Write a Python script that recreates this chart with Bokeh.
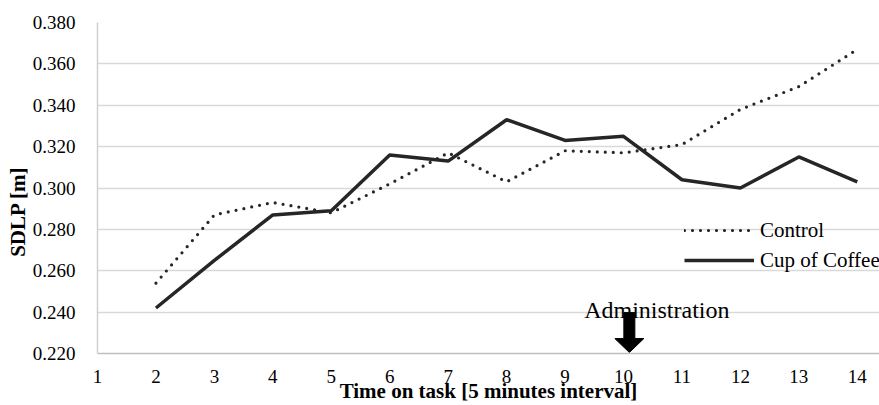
import numpy as np
from bokeh.plotting import figure
from bokeh.models import (FixedTicker, NumeralTickFormatter, Label, Legend, LegendItem,
                          Range1d, ColumnDataSource)
from bokeh.embed import file_html
from bokeh.resources import INLINE

# ---- data ----
time_points = [2, 3, 4, 5, 6, 7, 8, 9, 10, 11, 12, 13, 14]
control = [0.254, 0.287, 0.293, 0.288, 0.302, 0.317, 0.303, 0.318, 0.317, 0.321, 0.338, 0.349, 0.367]
coffee = [0.242, 0.265, 0.287, 0.289, 0.316, 0.313, 0.333, 0.323, 0.325, 0.304, 0.300, 0.315, 0.303]
x_ticks = list(range(1, 15))
y_ticks = [0.22, 0.24, 0.26, 0.28, 0.30, 0.32, 0.34, 0.36, 0.38]
series_names = ["Control", "Cup of Coffee"]
admin_time = 10.1
admin_text = "Administration"
x_title = "Time on task [5 minutes interval]"
y_title = "SDLP [m]"

FONT = "'Liberation Serif', 'Times New Roman', serif"
INK = "#262626"

X0, X1 = 1, 14.38
p = figure(width=879, height=405, output_backend="svg", toolbar_location=None,
           x_range=Range1d(X0, X1), y_range=Range1d(0.22, 0.38),
           min_border_left=97, min_border_top=22, min_border_bottom=51, min_border_right=0)
p.outline_line_color = None
p.background_fill_color = "white"

# axes
p.xaxis.ticker = FixedTicker(ticks=x_ticks)
p.yaxis.ticker = FixedTicker(ticks=y_ticks)
p.yaxis.formatter = NumeralTickFormatter(format="0.000")
for ax in (p.xaxis, p.yaxis):
    ax.major_tick_line_color = None
    ax.minor_tick_line_color = None
    ax.major_tick_out = 0
    ax.major_tick_in = 0
    ax.minor_tick_out = 0
    ax.major_label_text_font = FONT
    ax.major_label_text_font_size = "19px"
    ax.major_label_text_color = "black"
    ax.axis_label_text_font = FONT
    ax.axis_label_text_font_style = "bold"
    ax.axis_label_text_font_size = "21px"
    ax.axis_label_text_color = "black"
p.xaxis.axis_line_color = "#bfbfbf"
p.xaxis.axis_line_width = 1.5
p.yaxis.axis_line_color = "#d0d0d0"
p.yaxis.axis_line_width = 1.5
p.yaxis.major_label_standoff = 22
p.xaxis.major_label_standoff = 16

p.xaxis.axis_label = x_title
p.xaxis.axis_label_standoff = -7
# trailing no-break spaces shift the rotated title downwards like the reference
p.yaxis.axis_label = y_title + "\u00a0" * 9
p.yaxis.axis_label_standoff = 0

p.xgrid.grid_line_color = None
p.ygrid.grid_line_color = "#d9d9d9"
p.ygrid.grid_line_width = 1.5

src = ColumnDataSource(dict(t=time_points, control=control, coffee=coffee))
r_ctrl = p.line("t", "control", source=src, line_color=INK, line_width=3.2,
                line_dash="0 8", line_cap="round")
r_cof = p.line("t", "coffee", source=src, line_color=INK, line_width=3.5)

legend = Legend(items=[LegendItem(label=series_names[0], renderers=[r_ctrl]),
                       LegendItem(label=series_names[1], renderers=[r_cof])],
                location=(587, 78), orientation="vertical",
                glyph_width=70, glyph_height=30, label_height=30, spacing=0,
                padding=0, margin=0, label_standoff=6,
                label_text_font=FONT, label_text_font_size="21px",
                label_text_color="black",
                border_line_alpha=0, background_fill_alpha=0)
p.add_layout(legend, "center")

# administration arrow (pixel sizes converted to data units)
px_per_x = 782 / (X1 - X0)
px_per_y = 332 / (0.38 - 0.22)
shaft_hw, head_hw = 5.5 / px_per_x, 14.5 / px_per_x
y0 = 0.22 + 1 / px_per_y
y_head = y0 + 14 / px_per_y
y_top = y0 + 40 / px_per_y
ax_ = admin_time
p.patch([ax_ - shaft_hw, ax_ + shaft_hw, ax_ + shaft_hw, ax_ + head_hw, ax_,
         ax_ - head_hw, ax_ - shaft_hw],
        [y_top, y_top, y_head, y_head, y0, y_head, y_head],
        fill_color="black", line_color="black", line_width=1)

p.add_layout(Label(x=admin_time + 0.47, y=0.2412, text=admin_text, text_font=FONT,
                   text_font_size="24px", text_align="center", text_baseline="middle",
                   text_color="black"))

open("out.html", "w").write(file_html(p, INLINE))
